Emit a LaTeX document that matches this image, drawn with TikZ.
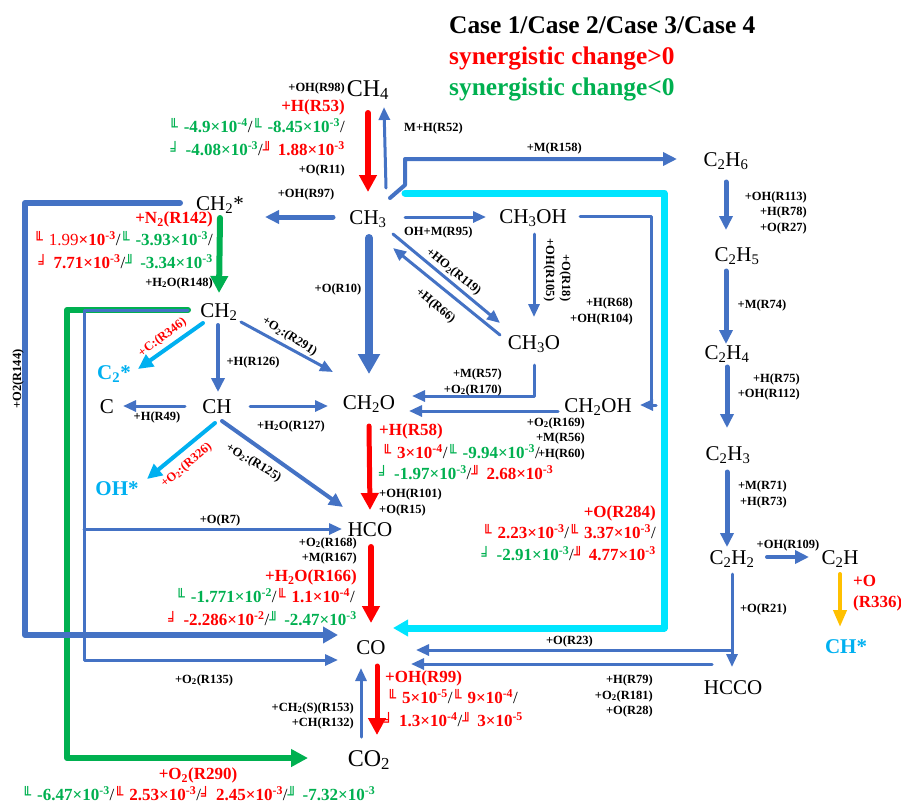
\documentclass[tikz,border=0pt]{standalone}
\usepackage{fontspec}
\setmainfont{Liberation Serif}
\newfontfamily\boxf{DejaVu Sans}
\usetikzlibrary{arrows.meta}
\definecolor{fblue}{HTML}{4472C4}
\definecolor{fred}{HTML}{FF0000}
\definecolor{fgreen}{HTML}{00B050}
\definecolor{fcyan}{HTML}{00E5FF}
\definecolor{flight}{HTML}{00B0F0}
\definecolor{fyellow}{HTML}{FFC000}
\newcommand\gbox[1]{{\mdseries\boxf\fontsize{15}{15}\selectfont #1}\hspace{6pt}}
\newcommand\gA{\gbox{╙}}
\newcommand\gC{\gbox{╛}}
\newcommand\gD{\gbox{╜}}
\newcommand\pw[1]{×10\textsuperscript{#1}}
\newcommand\sls{\textcolor{black}{\mdseries/}}
\newcommand\rtx[1]{\textcolor{fred}{#1}}
\newcommand\gtx[1]{\textcolor{fgreen}{#1}}
\newcommand\dn[1]{\textsubscript{#1}}
\tikzset{
  species/.style={font=\fontsize{21}{21}\selectfont, inner sep=0pt, text height=14pt, text depth=0pt},
  bigsp/.style={species, font=\fontsize{24}{24}\selectfont},
  star/.style={species, font=\bfseries\fontsize{21}{21}\selectfont, text=flight},
  lab/.style={font=\bfseries\fontsize{12.5}{12.5}\selectfont, inner sep=0pt, text height=8pt, text depth=0pt},
  rlab/.style={font=\bfseries\fontsize{17}{17}\selectfont, inner sep=0pt, text height=11pt, text depth=0pt, text=fred},
  val/.style={font=\bfseries\fontsize{17}{17}\selectfont, inner sep=0pt, text height=11pt, text depth=0pt},
  legend/.style={font=\bfseries\fontsize{25.4}{25.4}\selectfont, inner sep=0pt, text height=16pt, text depth=0pt, anchor=west},
  flow/.style={line cap=round, line join=round},
  thin3/.style={flow, draw=fblue, line width=3pt, -{Triangle[length=13pt,width=11pt]}},
  med4/.style={flow, draw=fblue, line width=4pt, -{Triangle[length=14pt,width=13pt]}},
  fat6/.style={flow, draw=fblue, line width=6pt, -{Triangle[length=15pt,width=16pt]}},
  fat8/.style={flow, draw=fblue, line width=8pt, -{Triangle[length=20pt,width=21pt]}},
  redar/.style={flow, draw=fred, line width=6pt, -{Triangle[length=17pt,width=17pt]}},
  greenar/.style={flow, draw=fgreen, line width=6pt, -{Triangle[length=17pt,width=17pt]}},
  cyanar/.style={flow, draw=fcyan, line width=7pt, -{Triangle[length=15pt,width=16pt]}},
  lightar/.style={flow, draw=flight, line width=4pt, -{Triangle[length=15pt,width=14pt]}},
  yellowar/.style={flow, draw=fyellow, line width=4pt, -{Triangle[length=17pt,width=13pt]}},
}
\begin{document}
\begin{tikzpicture}[x=1pt,y=-1pt]
\useasboundingbox (0,0) rectangle (901,804);
% legend
\node[legend] (lg1) at (449,25) {Case 1/Case 2/Case 3/Case 4};
\node[legend,text=fred] (lg2) at (449,56) {synergistic change>0};
\node[legend,text=fgreen] (lg3) at (449,87) {synergistic change<0};
% species
\node[bigsp] (ch4) at (368,89) {CH\dn{4}};
\node[species] (ch3) at (368,217) {CH\dn{3}};
\node[species] (ch2s) at (220,203) {CH\dn{2}*};
\node[species] (ch3oh) at (533,216) {CH\dn{3}OH};
\node[species] (ch3o) at (534,342) {CH\dn{3}O};
\node[species] (ch2) at (219,310) {CH\dn{2}};
\node[star] (c2s) at (114,372) {C\dn{2}*};
\node[species] (c) at (107,406) {C};
\node[species] (ch) at (217,406) {CH};
\node[star] (ohs) at (117,488) {OH*};
\node[species] (ch2o) at (369,402) {CH\dn{2}O};
\node[species] (ch2oh) at (598,405) {CH\dn{2}OH};
\node[species] (hco) at (370,529) {HCO};
\node[species] (co) at (371,647) {CO};
\node[bigsp] (co2) at (369,759) {CO\dn{2}};
\node[species] (c2h6) at (726,159) {C\dn{2}H\dn{6}};
\node[species] (c2h5) at (737,254) {C\dn{2}H\dn{5}};
\node[species] (c2h4) at (727,352) {C\dn{2}H\dn{4}};
\node[species] (c2h3) at (728,453) {C\dn{2}H\dn{3}};
\node[species] (c2h2) at (732,557) {C\dn{2}H\dn{2}};
\node[species] (c2h) at (840,557) {C\dn{2}H};
\node[star] (chs) at (846,646) {CH*};
\node[species] (hcco) at (733,687) {HCCO};
\coordinate (r7start) at (84,529);
% connectors
\draw[greenar] ([shift={(-31,0)}]ch2.center) -- ++(-121,0) -- ++(0,448) -- ([shift={(-61,-1)}]co2.center);
\draw[greenar] ([shift={(0,15)}]ch2s.center) -- ([shift={(0,-17)}]ch2.center);
\draw[fat6] ([shift={(-40,0)}]ch2s.center) -- ++(-155,0) -- ++(0,432) -- ([shift={(-33,-12)}]co.center);
\draw[thin3] ([shift={(-31,0)}]ch2.center) -- ++(-104,0) -- ++(0,350) -- ([shift={(-33,13)}]co.center);
\draw[thin3] (r7start) -- ([shift={(-28,0)}]hco.center);
\draw[redar] ([shift={(0,24)}]ch4.center) -- ([shift={(0,-25)}]ch3.center);
\draw[thin3] ([shift={(18,-29)}]ch3.center) -- ([shift={(16,18)}]ch4.center);
\draw[med4,line width=5pt] ([shift={(-35,0)}]ch3.center) -- ([shift={(45,14)}]ch2s.center);
\draw[med4] ([shift={(22,-19)}]ch3.center) -- ++(15,-13) -- ++(0,-26) -- ([shift={(-49,0)}]c2h6.center);
\draw[cyanar] ([shift={(37,-24)}]ch3.center) -- ++(259,0) -- ++(0,435) -- ([shift={(22,-19)}]co.center);
\draw[lightar] ([shift={(-16,13)}]ch2.center) -- ([shift={(24,-3)}]c2s.center);
\draw[med4] ([shift={(-1,15)}]ch2.center) -- ([shift={(1,-14)}]ch.center);
\draw[thin3] ([shift={(22,12)}]ch2.center) -- ([shift={(-36,-30)}]ch2o.center);
\draw[thin3] ([shift={(-32,0)}]ch.center) -- ([shift={(16,0)}]c.center);
\draw[thin3] ([shift={(33,0)}]ch.center) -- ([shift={(-41,4)}]ch2o.center);
\draw[lightar] ([shift={(-2,17)}]ch.center) -- ([shift={(30,-9)}]ohs.center);
\draw[med4] ([shift={(5,15)}]ch.center) -- ([shift={(-27,-22)}]hco.center);
\draw[fat8] ([shift={(1,21)}]ch3.center) -- ([shift={(0,-28)}]ch2o.center);
\draw[thin3] ([shift={(37,0)}]ch3.center) -- ([shift={(-47,1)}]ch3oh.center);
\draw[thin3] ([shift={(25,17)}]ch3.center) -- ([shift={(-34,-19)}]ch3o.center);
\draw[thin3] ([shift={(-34,-7)}]ch3o.center) -- ([shift={(25,31)}]ch3.center);
\draw[thin3] ([shift={(1,18)}]ch3oh.center) -- ([shift={(0,-25)}]ch3o.center);
\draw[thin3] ([shift={(47,0)}]ch3oh.center) -- ++(71,0) -- ++(0,189) -- ++(5,0) -- ([shift={(42,0)}]ch2oh.center);
\draw[thin3] ([shift={(0,23)}]ch3o.center) -- ++(0,31) -- ([shift={(43,-6)}]ch2o.center);
\draw[thin3] ([shift={(-40,6)}]ch2oh.center) -- ([shift={(40,9)}]ch2o.center);
\draw[redar,line width=5pt] ([shift={(0,24)}]ch2o.center) -- ([shift={(0,-19)}]hco.center);
\draw[redar] ([shift={(1,18)}]hco.center) -- ([shift={(0,-24)}]co.center);
\draw[thin3] ([shift={(-8,-22)}]co2.center) -- ([shift={(-10,21)}]co.center);
\draw[redar,line width=5pt] ([shift={(6,19)}]co.center) -- ([shift={(8,-24)}]co2.center);
\draw[med4,line width=5pt] ([shift={(0,23)}]c2h6.center) -- ([shift={(-11,-24)}]c2h5.center);
\draw[med4,line width=5pt] ([shift={(-11,17)}]c2h5.center) -- ([shift={(-1,-8)}]c2h4.center);
\draw[med4,line width=5pt] ([shift={(0,15)}]c2h4.center) -- ([shift={(-1,-25)}]c2h3.center);
\draw[med4,line width=5pt] ([shift={(-1,19)}]c2h3.center) -- ([shift={(-5,-10)}]c2h2.center);
\draw[med4] ([shift={(35,0)}]c2h2.center) -- ([shift={(-31,0)}]c2h.center);
\draw[yellowar] ([shift={(0,17)}]c2h.center) -- ([shift={(-6,-19)}]chs.center);
\draw[thin3] ([shift={(0,17)}]c2h2.center) -- ([shift={(-1,-20)}]hcco.center);
\draw[thin3] ([shift={(-1,-37)}]hcco.center) -- ([shift={(45,3)}]co.center);
\draw[thin3] ([shift={(-21,-23)}]hcco.center) -- ([shift={(40,17)}]co.center);
% small labels
\node[lab,anchor=east] (r98) at (345,87) {+OH(R98)};
\node[rlab,anchor=east] (r53) at (345,106) {+H(R53)};
\node[val,anchor=east] (v53a) at (345,127) {\gtx{\gA-4.9\pw{-4}}\sls\gtx{\gA-8.45\pw{-3}}\sls};
\node[val,anchor=east] (v53b) at (345,150) {\gtx{\gC-4.08\pw{-3}}\sls\rtx{\gD1.88\pw{-3}}};
\node[lab,anchor=east] (r11) at (345,169) {+O(R11)};
\node[lab,anchor=west] (r52) at (404,127) {M+H(R52)};
\node[lab] (r97) at (306,193) {+OH(R97)};
\node[rlab,anchor=east] (r142) at (213,218) {+N\dn{2}(R142)};
\node[val,anchor=east] (v142a) at (213,240) {\rtx{\gA{\mdseries 1.99}\pw{-3}}\sls\gtx{\gA-3.93\pw{-3}}\sls};
\node[val,anchor=east] (v142b) at (213,263) {\rtx{\gC7.71\pw{-3}}\sls\gtx{\gD-3.34\pw{-3}}};
\node[lab,anchor=east] (r148) at (213,282) {+H\dn{2}O(R148)};
\node[lab] (r10) at (338,288) {+O(R10)};
\node[lab,anchor=west] (r95) at (404,231) {OH+M(R95)};
\node[lab,rotate=-39] (r119) at (454,271) {+HO\dn{2}(R119)};
\node[lab,rotate=-39] (r66) at (436,305) {+H(R66)};
\node[lab,rotate=-90] (r105) at (550,270) {+OH(R105)};
\node[lab,rotate=-90] (r18) at (566,278) {+O(R18)};
\node[lab,anchor=east] (r68) at (633,302) {+H(R68)};
\node[lab,anchor=east] (r104) at (633,318) {+OH(R104)};
\node[lab,rotate=-32] (r291) at (290,336) {+O\dn{2}:(R291)};
\node[lab,rotate=37,text=fred] (r346) at (162,337) {+C:(R346)};
\node[lab] (r126) at (253,361) {+H(R126)};
\node[lab] (r49) at (157,416) {+H(R49)};
\node[lab] (r127) at (291,425) {+H\dn{2}O(R127)};
\node[lab,rotate=-31] (r125) at (254,462) {+O\dn{2}:(R125)};
\node[lab,rotate=40,text=fred] (r326) at (186,465) {+O\dn{2}:(R326)};
\node[lab] (r7) at (220,519) {+O(R7)};
\node[lab,rotate=90] (r144) at (17,379) {+O2(R144)};
\node[lab,anchor=east] (r57) at (502,373) {+M(R57)};
\node[lab,anchor=east] (r170) at (502,389) {+O\dn{2}(R170)};
\node[lab,anchor=east] (r169) at (585,422) {+O\dn{2}(R169)};
\node[lab,anchor=east] (r56) at (585,437) {+M(R56)};
\node[lab,anchor=east] (r60) at (585,453) {+H(R60)};
\node[rlab,anchor=west] (r58) at (379,430) {+H(R58)};
\node[val,anchor=west] (v58a) at (382,453) {\rtx{\gA3\pw{-4}}\sls\gtx{\gA-9.94\pw{-3}}\sls};
\node[val,anchor=west] (v58b) at (379,474) {\gtx{\gC-1.97\pw{-3}}\sls\rtx{\gD2.68\pw{-3}}};
\node[lab,anchor=west] (r101) at (379,493) {+OH(R101)};
\node[lab,anchor=west] (r15) at (379,509) {+O(R15)};
\node[rlab,anchor=east] (r284) at (656,512) {+O(R284)};
\node[val,anchor=east] (v284a) at (656,533) {\rtx{\gA2.23\pw{-3}}\sls\rtx{\gA3.37\pw{-3}}\sls};
\node[val,anchor=east] (v284b) at (656,555) {\gtx{\gC-2.91\pw{-3}}\sls\rtx{\gD4.77\pw{-3}}};
\node[lab,anchor=east] (r168) at (357,542) {+O\dn{2}(R168)};
\node[lab,anchor=east] (r167) at (357,557) {+M(R167)};
\node[rlab,anchor=east] (r166) at (357,576) {+H\dn{2}O(R166)};
\node[val,anchor=east] (v166a) at (355,597) {\gtx{\gA-1.771\pw{-2}}\sls\rtx{\gA1.1\pw{-4}}\sls};
\node[val,anchor=east] (v166b) at (357,620) {\rtx{\gC-2.286\pw{-2}}\sls\gtx{\gD-2.47\pw{-3}}};
\node[lab] (r135) at (204,679) {+O\dn{2}(R135)};
\node[rlab,anchor=west] (r99) at (385,677) {+OH(R99)};
\node[val,anchor=west] (v99a) at (387,698) {\rtx{\gA5\pw{-5}}\sls\rtx{\gA9\pw{-4}}\sls};
\node[val,anchor=west] (v99b) at (384,721) {\rtx{\gC1.3\pw{-4}}\sls\rtx{\gD3\pw{-5}}};
\node[lab,anchor=east] (r153) at (354,707) {+CH\dn{2}(S)(R153)};
\node[lab,anchor=east] (r132) at (354,722) {+CH(R132)};
\node[rlab] (r290) at (198,774) {+O\dn{2}(R290)};
\node[val,anchor=west] (v290) at (22,795) {\gtx{\gA-6.47\pw{-3}}\sls\rtx{\gA2.53\pw{-3}}\sls\rtx{\gC2.45\pw{-3}}\sls\gtx{\gD-7.32\pw{-3}}};
\node[lab,anchor=east] (r158) at (582,147) {+M(R158)};
\node[lab,anchor=east] (r113) at (807,196) {+OH(R113)};
\node[lab,anchor=east] (r78) at (807,211) {+H(R78)};
\node[lab,anchor=east] (r27) at (807,227) {+O(R27)};
\node[lab] (r74) at (762,304) {+M(R74)};
\node[lab,anchor=east] (r75) at (800,378) {+H(R75)};
\node[lab,anchor=east] (r112) at (800,393) {+OH(R112)};
\node[lab,anchor=east] (r71) at (787,485) {+M(R71)};
\node[lab,anchor=east] (r73) at (787,501) {+H(R73)};
\node[lab] (r109) at (788,544) {+OH(R109)};
\node[lab,anchor=east] (r21) at (787,608) {+O(R21)};
\node[rlab,anchor=west] (r336a) at (853,581) {+O};
\node[rlab,anchor=west] (r336b) at (853,602) {(R336)};
\node[lab,anchor=east] (r23) at (593,640) {+O(R23)};
\node[lab,anchor=east] (r79) at (653,679) {+H(R79)};
\node[lab,anchor=east] (r181) at (653,695) {+O\dn{2}(R181)};
\node[lab,anchor=east] (r28) at (653,710) {+O(R28)};
\end{tikzpicture}
\end{document}
